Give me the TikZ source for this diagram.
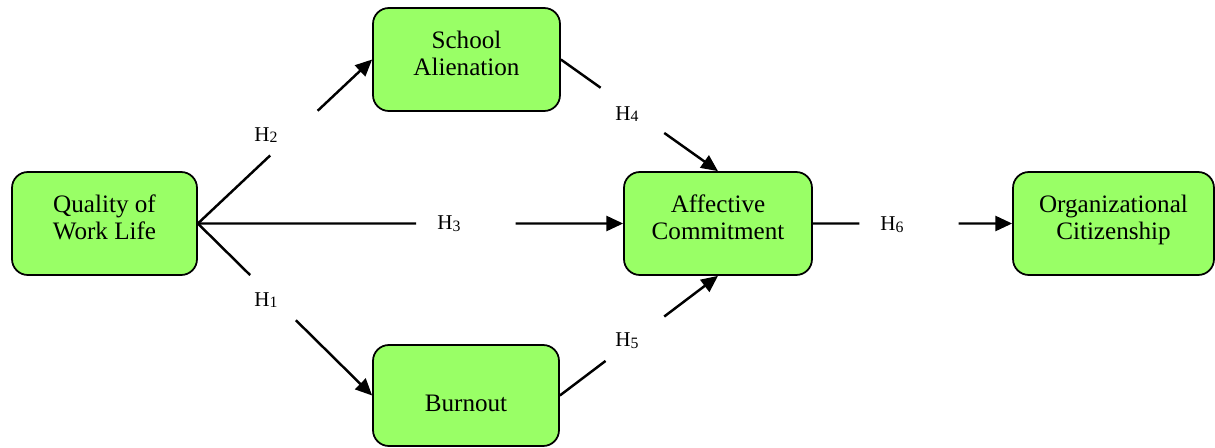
\documentclass[tikz,border=0pt]{standalone}
\usepackage{fontspec}
\setmainfont{Liberation Serif}
\usetikzlibrary{arrows.meta,calc}
\definecolor{boxgreen}{HTML}{99FF66}
\newcommand{\boxlines}[1]{\raisebox{-1.8pt}[0pt][0pt]{\begin{tabular}{@{}c@{}}#1\end{tabular}}}
\newcommand{\hsub}[1]{H\raisebox{-1pt}{\fontsize{9}{9}\selectfont #1}}

\begin{document}
\begin{tikzpicture}[x=0.02cm, y=-0.02cm,
  factor/.style = {shape=rectangle, rounded corners=9pt,
    draw, line width=1pt, fill=boxgreen,
    minimum height=2.06cm, inner sep=0pt,
    font=\fontsize{14.3}{15.6}\selectfont},
  hyp/.style = {font=\fontsize{12}{14}\selectfont, inner sep=1pt}]
    \tikzstyle{hypline}=[line width=1.4pt]
    \tikzstyle{hyparrow}=[line width=1.4pt, -{Triangle[length=9.5pt,width=8.5pt]}]
  \useasboundingbox (0,0) rectangle (1215,447);
  % boxes
  \node[factor, minimum width=3.70cm] (qwl) at (104.5,223.5) {\boxlines{Quality of\\Work Life}};
  \node[factor, minimum width=3.74cm] (sa) at (466.5,59.5) {\boxlines{School\\Alienation}};
  \node[factor, minimum width=3.72cm, minimum height=2.02cm] (bo) at (466,395.5) {\boxlines{\\Burnout}};
  \node[factor, minimum width=3.76cm] (ac) at (718,223.5) {\boxlines{Affective\\Commitment}};
  \node[factor, minimum width=4.02cm] (oc) at (1113.5,223.5) {\boxlines{Organizational\\Citizenship}};
  % hypotheses
  \node[hyp] (h1) at (266,300) {\hsub{1}};
  \node[hyp] (h2) at (266,135) {\hsub{2}};
  \node[hyp] (h3) at (449,224) {\hsub{3}};
  \node[hyp] (h4) at (627,114) {\hsub{4}};
  \node[hyp] (h5) at (627,341) {\hsub{5}};
  \node[hyp] (h6) at (892,225) {\hsub{6}};
  % paths, each broken where its label sits
  \draw[hypline] (qwl.east) -- ($(qwl.east)!0.30!(bo.west)$);
  \draw[hyparrow] ($(qwl.east)!0.5625!(bo.west)$) -- (bo.west);
  \draw[hypline] (qwl.east) -- ($(qwl.east)!0.415!(sa.west)$);
  \draw[hyparrow] ($(qwl.east)!0.6875!(sa.west)$) -- (sa.west);
  \draw[hypline] (qwl.east) -- ($(qwl.east)!0.513!(ac.west)$);
  \draw[hyparrow] ($(qwl.east)!0.747!(ac.west)$) -- (ac.west);
  \draw[hypline] (sa.east) -- ($(sa.east)!0.253!(ac.north)$);
  \draw[hyparrow] ($(sa.east)!0.658!(ac.north)$) -- (ac.north);
  \draw[hypline] (bo.east) -- ($(bo.east)!0.289!(ac.south)$);
  \draw[hyparrow] ($(bo.east)!0.66!(ac.south)$) -- (ac.south);
  \draw[hypline] (ac.east) -- ($(ac.east)!0.234!(oc.west)$);
  \draw[hyparrow] ($(ac.east)!0.731!(oc.west)$) -- (oc.west);
\end{tikzpicture}
\end{document}
